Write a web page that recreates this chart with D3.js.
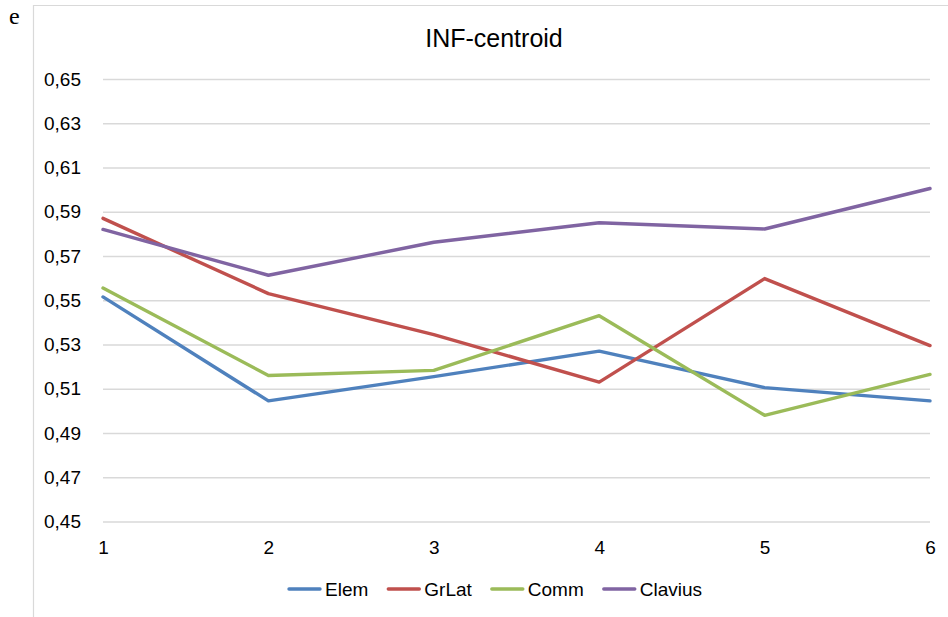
<!DOCTYPE html>
<html>
<head>
<meta charset="utf-8">
<script src="https://cdn.jsdelivr.net/npm/d3@7"></script>
<style>
  html, body { margin: 0; padding: 0; background: #fff; }
  svg { display: block; }
</style>
</head>
<body>
<svg id="chart" width="948" height="617"></svg>
<script>
const categories = [1, 2, 3, 4, 5, 6];
const yTicks = [0.45, 0.47, 0.49, 0.51, 0.53, 0.55, 0.57, 0.59, 0.61, 0.63, 0.65];
const seriesNames = ["Elem", "GrLat", "Comm", "Clavius"];
const elem    = [0.5515, 0.5045, 0.5155, 0.5270, 0.5105, 0.5045];
const grLat   = [0.5870, 0.5530, 0.5345, 0.5130, 0.5598, 0.5295];
const comm    = [0.5555, 0.5160, 0.5183, 0.5430, 0.4980, 0.5165];
const clavius = [0.5820, 0.5613, 0.5762, 0.5850, 0.5822, 0.6005];
const colors  = ["#4F81BD", "#C0504D", "#9BBB59", "#8064A2"];
const title = "INF-centroid";
const panelLetter = "e";

const series = [elem, grLat, comm, clavius].map((vals, i) => ({
  name: seriesNames[i], color: colors[i], values: vals
}));

const svg = d3.select("#chart");
const font = "'Liberation Sans', Arial, sans-serif";

const x = d3.scalePoint().domain(categories).range([103, 930]);
const y = d3.scaleLinear().domain([0.45, 0.65]).range([521.5, 79]);

// Frame (partially visible chart border)
svg.append("line").attr("x1", 33.5).attr("x2", 33.5).attr("y1", 5).attr("y2", 617)
  .attr("stroke", "#d9d9d9").attr("stroke-width", 1.2);
svg.append("line").attr("x1", 33).attr("x2", 948).attr("y1", 5.5).attr("y2", 5.5)
  .attr("stroke", "#d9d9d9").attr("stroke-width", 1.2);

// Panel letter
svg.append("text").attr("x", 9).attr("y", 24).text(panelLetter)
  .attr("font-family", "'Liberation Serif', 'Times New Roman', serif")
  .attr("font-size", 24).attr("fill", "#000");

// Title
svg.append("text").attr("x", 494).attr("y", 47).attr("text-anchor", "middle")
  .text(title).attr("font-family", font).attr("font-size", 25).attr("fill", "#000");

// Gridlines via axis
const yAxis = d3.axisLeft(y).tickValues(yTicks)
  .tickSize(-(930 - 103)).tickPadding(22)
  .tickFormat(d => d3.format(".2f")(d).replace(".", ","));
const gy = svg.append("g").attr("transform", "translate(103,0)").call(yAxis);
gy.select(".domain").remove();
gy.selectAll(".tick line").attr("stroke", "#d9d9d9").attr("stroke-width", 1.3);
gy.selectAll(".tick text").attr("font-family", font).attr("font-size", 19).attr("fill", "#000");

const xAxis = d3.axisBottom(x).tickSize(0).tickPadding(19);
const gx = svg.append("g").attr("transform", "translate(0,521.5)").call(xAxis);
gx.select(".domain").remove();
gx.selectAll(".tick text").attr("font-family", font).attr("font-size", 19).attr("fill", "#000");

// Lines
const line = d3.line().x((d, i) => x(categories[i])).y(d => y(d));
svg.append("g").selectAll("path").data(series).join("path")
  .attr("d", d => line(d.values))
  .attr("fill", "none").attr("stroke", d => d.color)
  .attr("stroke-width", 3.4).attr("stroke-linejoin", "round").attr("stroke-linecap", "round");

// Legend
const legend = svg.append("g");
const legendY = 589;
let cx = 289;
series.forEach(s => {
  legend.append("line").attr("x1", cx).attr("x2", cx + 31).attr("y1", legendY).attr("y2", legendY)
    .attr("stroke", s.color).attr("stroke-width", 3.4).attr("stroke-linecap", "round");
  const t = legend.append("text").attr("x", cx + 36).attr("y", legendY + 6.5).text(s.name)
    .attr("font-family", font).attr("font-size", 19).attr("fill", "#000");
  const w = t.node().getComputedTextLength();
  cx += 36 + w + 20;
});
</script>
</body>
</html>
